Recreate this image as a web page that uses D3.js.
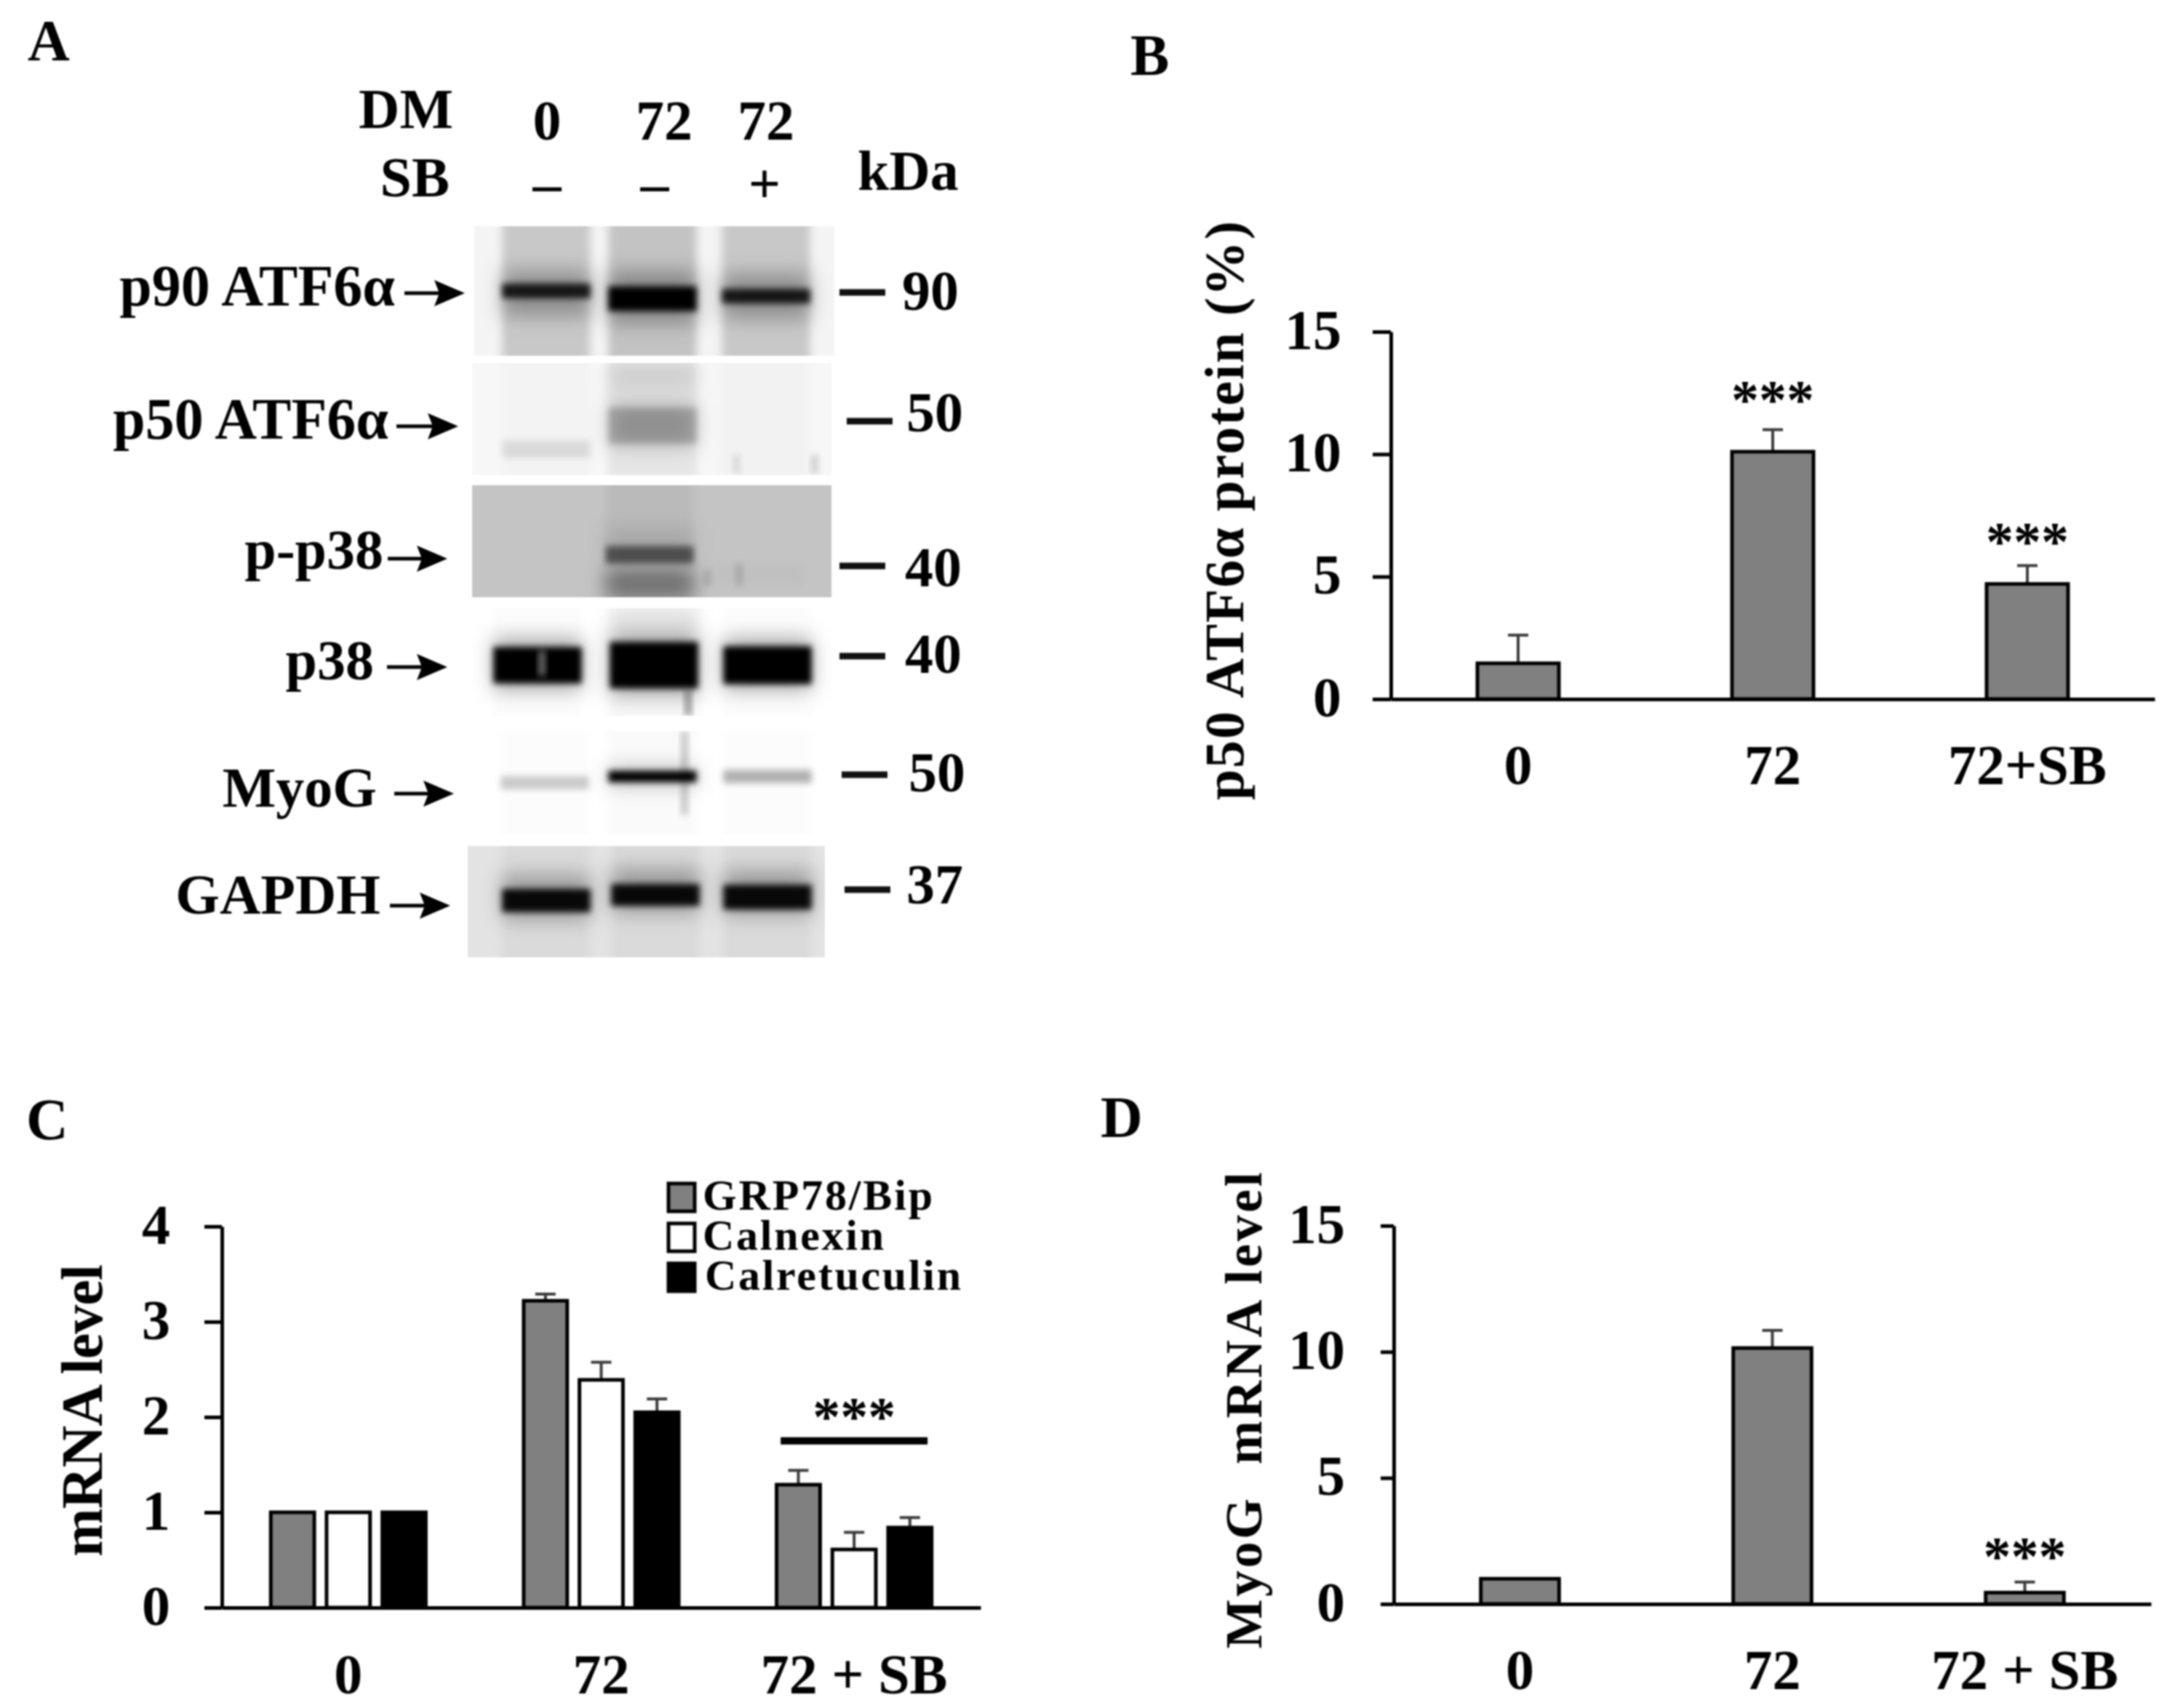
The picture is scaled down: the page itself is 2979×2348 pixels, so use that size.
<!DOCTYPE html>
<html><head><meta charset="utf-8">
<script src="https://cdnjs.cloudflare.com/ajax/libs/d3/7.8.5/d3.min.js"></script>
<style>
html,body{margin:0;padding:0;background:#fff}
svg{display:block;filter:blur(1.2px)}
text{font-family:"Liberation Serif",serif;font-weight:bold;fill:#000}
</style></head><body>
<script>
// ---------- data ----------
const categoriesB = ["0","72","72+SB"];
const valuesB = [1.46,10.1,4.7];
const errorsB = [1.15,0.9,0.75];
const starsB = [null,11.46,5.67];
const ticksB = [0,5,10,15];

const categoriesC = ["0","72","72 + SB"];
const seriesC = ["GRP78/Bip","Calnexin","Calretuculin"];
const grp78Values = [1,3.22,1.29];
const grp78Errors = [0,0.07,0.15];
const calnexinValues = [1,2.39,0.61];
const calnexinErrors = [0,0.185,0.18];
const calretValues = [1,2.05,0.84];
const calretErrors = [0,0.14,0.105];
const ticksC = [0,1,2,3,4];

const categoriesD = ["0","72","72 + SB"];
const valuesD = [1,10.15,0.45];
const errorsD = [0,0.7,0.42];
const starsD = [null,null,1.15];
const ticksD = [0,5,10,15];

const lanesA = ["0","72","72"];
const sbA = ["–","–","+"];
const blotNames = ["p90 ATF6α","p50 ATF6α","p-p38","p38","MyoG","GAPDH"];
const blotKda = ["90","50","40","40","50","37"];
const smearA = [[.18,.2,.18],[.015,.07,.02],[0,.05,0],[.012,.03,.012],[.012,.02,.012],[.04,.04,.04]];
const bandA = [[.85,1,.85],[.1,.2,0],[0,.55,.02],[1,1,1],[.2,1,.3],[.95,.95,.95]];

// ---------- page ----------
const W=2979,H=2348;
const svg=d3.select("body").append("svg").attr("width",W).attr("height",H).attr("viewBox",`0 0 ${W} ${H}`);
const defs=svg.append("defs");
[["b3",4],["b6",6],["b10",14]].forEach(([id,s])=>defs.append("filter").attr("id",id).attr("x","-40%").attr("y","-400%").attr("width","180%").attr("height","900%")
  .append("feGaussianBlur").attr("stdDeviation",s));

function label(t,x,y,size,anchor="start",parent=svg){
  return parent.append("text").attr("x",x).attr("y",y).attr("font-size",size).attr("text-anchor",anchor).text(t);
}
function rotated(t,x,cy,size,len){
  return svg.append("text").attr("transform",`translate(${x},${cy}) rotate(-90)`).attr("text-anchor","middle")
    .attr("font-size",size).attr("textLength",len).attr("lengthAdjust","spacing").style("white-space","pre").text(t);
}
[["A",38,83],["B",1554,103],["C",36,1566],["D",1513,1563]].forEach(([t,x,y])=>label(t,x,y,80));

// ---------- chart helper ----------
function axes(g,o){
  const ax=g.append("g").attr("transform",`translate(${o.x0},0)`)
    .call(d3.axisLeft(o.y).tickValues(o.ticks).tickFormat(d3.format("d")).tickSize(o.tick).tickSizeOuter(0).tickPadding(o.pad));
  ax.selectAll("text").attr("dy",23).attr("font-size",78).attr("font-family",null);
  const bx=g.append("g").attr("transform",`translate(0,${o.y(0)})`)
    .call(d3.axisBottom(o.x).tickSize(0).tickSizeOuter(0));
  bx.selectAll("text").attr("y",o.base).attr("dy",0).attr("font-size",78).attr("font-family",null);
  [ax,bx].forEach(a=>{a.attr("font-family",null);a.selectAll("path,line").attr("stroke","#000").attr("stroke-width",5);});
}
function errs(g,pts){
  g.selectAll(null).data(pts).join("line").attr("stroke","#3c3c3c").attr("stroke-width",4)
    .attr("x1",d=>d.cx).attr("x2",d=>d.cx).attr("y1",d=>d.y0).attr("y2",d=>d.y1);
  g.selectAll(null).data(pts).join("line").attr("stroke","#3c3c3c").attr("stroke-width",4)
    .attr("x1",d=>d.cx-14).attr("x2",d=>d.cx+14).attr("y1",d=>d.y1).attr("y2",d=>d.y1);
}
function simpleChart(o){
  const g=svg.append("g");
  const x=d3.scaleBand().domain(o.cats).range([o.x0,o.x1]).paddingInner(o.p).paddingOuter(o.p/2);
  const y=d3.scaleLinear().domain([0,15]).range([o.y0,o.y15]);
  const pts=o.cats.map((c,i)=>({cx:x(c)+x.bandwidth()/2,y0:y(o.vals[i]),y1:y(o.vals[i]+o.errs[i]),e:o.errs[i]})).filter(d=>d.e>0);
  errs(g,pts);
  g.selectAll(null).data(o.vals).join("rect").attr("x",(d,i)=>x(o.cats[i])).attr("width",x.bandwidth())
    .attr("y",d=>y(d)).attr("height",d=>y(0)-y(d)).attr("fill","#808080").attr("stroke","#000").attr("stroke-width",5);
  axes(g,{x,y,x0:o.x0,ticks:o.ticks,tick:o.tick,pad:o.pad,base:o.base});
  o.stars.forEach((s,i)=>{ if(s!=null) label("***",x(o.cats[i])+x.bandwidth()/2,y(s),76,"middle"); });
}
// ---------- B ----------
simpleChart({cats:categoriesB,vals:valuesB,errs:errorsB,stars:starsB,ticks:ticksB,x0:1912,x1:2962,y0:961,y15:456,p:.68,tick:25,pad:43,base:117});
rotated("p50 ATF6α protein (%)",1709,702,76,796);
// ---------- D ----------
simpleChart({cats:categoriesD,vals:valuesD,errs:errorsD,stars:starsD,ticks:ticksD,x0:1916,x1:2957,y0:2205,y15:1685,p:.69,tick:18,pad:49,base:117});
rotated("MyoG  mRNA level",1734,1939,72,655);
// ---------- C ----------
(function(){
  const g=svg.append("g");
  const x=d3.scaleBand().domain(categoriesC).range([305,1348]);
  const inner=d3.scaleBand().domain(seriesC).range([-115,115]).paddingInner(.22).paddingOuter(.11);
  const y=d3.scaleLinear().domain([0,4]).range([2210,1686]);
  const fills=["#808080","#fff","#000"];
  const vals=[grp78Values,calnexinValues,calretValues], ers=[grp78Errors,calnexinErrors,calretErrors];
  seriesC.forEach((s,k)=>{
    const pts=categoriesC.map((c,i)=>({cx:x(c)+x.bandwidth()/2+inner(s)+inner.bandwidth()/2,y0:y(vals[k][i]),y1:y(vals[k][i]+ers[k][i]),e:ers[k][i]})).filter(d=>d.e>0);
    errs(g,pts);
    g.selectAll(null).data(vals[k]).join("rect").attr("x",(d,i)=>x(categoriesC[i])+x.bandwidth()/2+inner(s)).attr("width",inner.bandwidth())
      .attr("y",d=>y(d)).attr("height",d=>y(0)-y(d)).attr("fill",fills[k]).attr("stroke","#000").attr("stroke-width",5);
  });
  axes(g,{x,y,x0:305,ticks:ticksC,tick:24,pad:47,base:118});
  const sbc=x("72 + SB")+x.bandwidth()/2;
  label("***",sbc,y(1.81),76,"middle");
  g.append("line").attr("x1",sbc-101).attr("x2",sbc+101).attr("y1",y(1.75)).attr("y2",y(1.75)).attr("stroke","#000").attr("stroke-width",10);
  const leg=d3.scaleBand().domain(seriesC).range([1625,1776]).paddingInner(.25);
  const legLen=[316,249,352];
  seriesC.forEach((s,k)=>{
    svg.append("rect").attr("x",919).attr("y",leg(s)+2).attr("width",36).attr("height",leg.bandwidth()-3)
      .attr("fill",fills[k]).attr("stroke","#000").attr("stroke-width",5);
    label(s,966+(k==2?3:0),leg(s)+38,60).attr("textLength",legLen[k]).attr("lengthAdjust","spacing");
  });
})();
rotated("mRNA level",140,1939,80,402);
// ---------- A: blots ----------
const blotBox=[[652,311,495,178,"#f4f4f4"],[649,499,494,154,"#f7f7f7"],[649,667,494,154,"#c4c4c4"],[649,836,494,148,"#ffffff"],[649,1005,494,142,"#ffffff"],[643,1163,491,153,"#e3e3e3"]];
const bandPos=[[.5,.56,.54],[.77,.56,.5],[.6,.62,.8],[.53,.53,.53],[.5,.44,.44],[.49,.44,.46]];
const bandThick=[[20,34,20],[24,50,4],[4,24,30],[50,64,52],[18,16,18],[32,30,34]];
const laneShift=[[0,0,10],[0,0,8],[0,-4,0],[-12,2,12],[-2,0,12],[0,4,12]];
const extra=[[0,0,.52,.3,60],[0,1,.55,.32,70],[0,2,.54,.3,60],
  [1,1,.55,.22,60],[1,1,.12,.14,25],
  [2,1,.88,.42,40],[2,1,.5,.12,30],
  [3,1,.1,.12,20],[3,0,.52,.35,70],[3,1,.52,.35,85],[3,2,.52,.35,70],
  [4,1,.44,.25,24],
  [5,0,.46,.3,60],[5,1,.4,.3,60],[5,2,.42,.3,60]];
const streaks=[[1,1013,625,26,.1,"#000"],[1,1120,625,26,.16,"#000"],[2,973,783,22,.12,"#000"],[2,1016,775,30,.12,"#000"],[3,946,948,36,.35,"#000"],[4,941,1005,115,.2,"#000"],[3,745,895,34,.4,"#fff"]];
const lane=d3.scaleBand().domain([0,1,2]).range([665.5,1128.5]).padding(.17);
blotBox.forEach(([x,y,w,h,bg],i)=>{
  const id="clip"+i;
  const lx=k=>lane(k)+laneShift[i][k];
  defs.append("clipPath").attr("id",id).append("rect").attr("x",x).attr("y",y).attr("width",w).attr("height",h);
  const g=svg.append("g").attr("clip-path",`url(#${id})`);
  g.append("rect").attr("x",x).attr("y",y).attr("width",w).attr("height",h).attr("fill",bg);
  g.selectAll(null).data(smearA[i]).join("rect").attr("x",(d,k)=>lx(k)).attr("width",lane.bandwidth()).attr("y",y-20).attr("height",h+40)
    .attr("fill","#000").attr("fill-opacity",d=>d).attr("filter","url(#b6)");
  const pos=d3.scaleLinear().domain([0,1]).range([y,y+h]);
  g.selectAll(null).data(extra.filter(e=>e[0]==i)).join("rect").attr("x",e=>lx(e[1])).attr("width",lane.bandwidth())
    .attr("y",e=>pos(e[2])-e[4]/2).attr("height",e=>e[4]).attr("fill","#000").attr("fill-opacity",e=>e[3]).attr("filter","url(#b10)");
  g.selectAll(null).data(bandA[i]).join("rect").attr("x",(d,k)=>lx(k)).attr("width",lane.bandwidth())
    .attr("y",(d,k)=>pos(bandPos[i][k])-bandThick[i][k]/2).attr("height",(d,k)=>bandThick[i][k])
    .attr("fill","#000").attr("fill-opacity",d=>d).attr("filter","url(#b3)");
  g.selectAll(null).data(streaks.filter(e=>e[0]==i)).join("rect").attr("x",e=>e[1]-5).attr("width",10)
    .attr("y",e=>e[2]).attr("height",e=>e[3]).attr("fill",e=>e[5]).attr("fill-opacity",e=>e[4]).attr("filter","url(#b3)");
});
// ---------- A: text ----------
const laneX=d3.scaleOrdinal().domain([0,1,2]).range([752,913,1053]);
lanesA.forEach((t,i)=>label(t,laneX(i),192,78,"middle"));
sbA.forEach((t,i)=>label(t,laneX(i)+(i==1?-13:i==2?-2:0),279,78,"middle"));
label("DM",623,176,78,"end"); label("SB",618,270,78,"end"); label("kDa",1179,261,78);
const nameEnd=[543,534,527,514,518,523], nameBase=[420,603,782,934,1109,1256];
const arrowX=[556,545,533,532,542,536], arrowY=[403,586,768,917,1091,1245], arrowLen=[83,85,82,83,82,83];
const tickX=[1154,1164,1154,1154,1157,1161], tickY=[402,579,778,902,1065,1223];
const kdaX=[1240,1246,1244,1244,1249,1246], kdaBase=[426,593,806,925,1088,1242];
blotNames.forEach((n,i)=>{
  label(n,nameEnd[i],nameBase[i],i<2?80:78,"end");
  const p=d3.path(), ax=arrowX[i], ay=arrowY[i], L=arrowLen[i];
  p.moveTo(ax,ay-2.5);p.lineTo(ax+L-36,ay-2.5);p.lineTo(ax+L-42,ay-18);p.lineTo(ax+L,ay);p.lineTo(ax+L-42,ay+18);p.lineTo(ax+L-36,ay+2.5);p.lineTo(ax,ay+2.5);p.closePath();
  svg.append("path").attr("d",p.toString()).attr("fill","#000");
  svg.append("line").attr("x1",tickX[i]).attr("x2",tickX[i]+63).attr("y1",tickY[i]).attr("y2",tickY[i]).attr("stroke","#111").attr("stroke-width",9);
  label(blotKda[i],kdaX[i],kdaBase[i],78);
});
</script></body></html>
